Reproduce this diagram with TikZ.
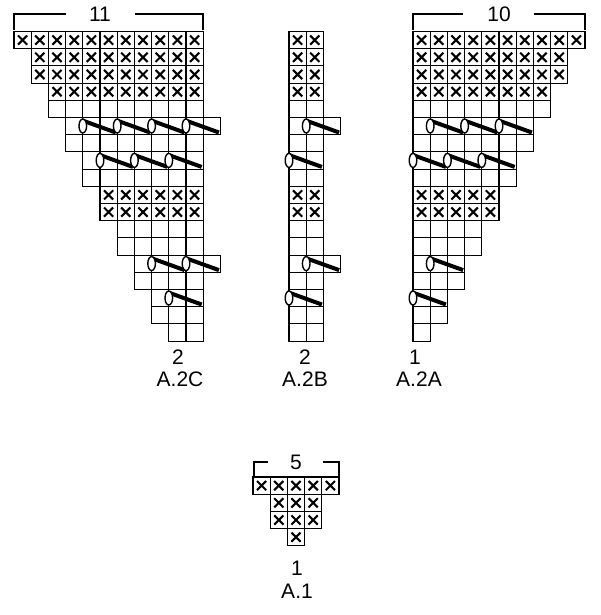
\documentclass[tikz,border=0pt]{standalone}
\usepackage{fontspec}
\setmainfont{Liberation Sans}
\newcommand{\cs}{17.2}% cell size
\tikzset{
  cellbox/.style={draw=black, line width=1.1pt},
  crossline/.style={line width=2.1pt},
  bracket/.style={line width=2pt},
  lbl/.style={font=\fontsize{21}{21}\selectfont, inner sep=0pt},
}
% \chartrows{origin x}{list of row/from/to/type}
\newcommand{\chartrows}[2]{%
  \foreach \r/\a/\b/\t in {#2} {
    \foreach \i in {\a,...,\b} {
      \pgfmathsetmacro{\xx}{#1+\i*\cs}
      \pgfmathsetmacro{\yy}{31.5+\r*\cs}
      \draw[cellbox] (\xx,\yy) rectangle ++(\cs,\cs);
      \if\t x
        \draw[crossline] (\xx+4,\yy+4) -- ++(9.2,9.2)
                         (\xx+4,\yy+13.2) -- ++(9.2,-9.2);
      \fi
    }
  }}
% \chartpairs{origin x}{list of row/index}
\newcommand{\chartpairs}[2]{%
  \foreach \r/\i in {#2} {
    \pgfmathsetmacro{\xx}{#1+\i*\cs}
    \pgfmathsetmacro{\yy}{31.5+\r*\cs}
    \draw[line width=4pt] (\xx+1,\yy+3.5) -- (\xx+2*\cs-1.5,\yy+\cs-2.2);
    \draw[fill=white, line width=1.4pt] (\xx,\yy+8.5) ellipse (3.8 and 7);
  }}
\begin{document}
\begin{tikzpicture}[x=1pt, y=-1pt]
\useasboundingbox (0,0) rectangle (600,615);

% A.2C
\chartrows{14}{0/0/10/x, 1/1/10/x, 2/1/10/x, 3/2/10/x, 4/2/10/o, 5/3/11/o,
  6/3/10/o, 7/4/10/o, 8/4/10/o, 9/5/10/x, 10/5/10/x, 11/6/10/o, 12/6/10/o,
  13/7/11/o, 14/7/10/o, 15/8/10/o, 16/8/10/o, 17/9/10/o}
\chartpairs{14}{5/4, 5/6, 5/8, 5/10, 7/5, 7/7, 7/9, 13/8, 13/10, 15/9}

% A.2B
\chartrows{289}{0/0/1/x, 1/0/1/x, 2/0/1/x, 3/0/1/x, 4/0/1/o, 5/0/2/o,
  6/0/1/o, 7/0/1/o, 8/0/1/o, 9/0/1/x, 10/0/1/x, 11/0/1/o, 12/0/1/o,
  13/0/2/o, 14/0/1/o, 15/0/1/o, 16/0/1/o, 17/0/1/o}
\chartpairs{289}{5/1, 7/0, 13/1, 15/0}

% A.2A
\chartrows{413}{0/0/9/x, 1/0/8/x, 2/0/8/x, 3/0/7/x, 4/0/7/o, 5/0/6/o,
  6/0/6/o, 7/0/5/o, 8/0/5/o, 9/0/4/x, 10/0/4/x, 11/0/3/o, 12/0/3/o,
  13/0/2/o, 14/0/2/o, 15/0/1/o, 16/0/1/o, 17/0/0/o}
\chartpairs{413}{5/1, 5/3, 5/5, 7/0, 7/2, 7/4, 13/1, 15/0}

% A.1
\begin{scope}[yshift=-445.5pt]
\chartrows{253}{0/0/4/x, 1/1/3/x, 2/1/3/x, 3/2/2/x}
\end{scope}

% brackets
\draw[bracket] (14,30) -- (14,14) -- (66,14) (135,14) -- (203,14) -- (203,30);
\node[lbl] (n11) at (100,14) {11};
\draw[bracket] (413,30) -- (413,14) -- (463,14) (534,14) -- (585,14) -- (585,30);
\node[lbl] (n10) at (499,14) {10};
\draw[bracket] (254,476) -- (254,462) -- (268,462) (323,462) -- (339,462) -- (339,476);
\node[lbl] (n5) at (296,462) {5};

% labels
\node[lbl] (cC) at (178,357) {2};
\node[lbl] (tC) at (180,379) {A.2C};
\node[lbl] (cB) at (305,357) {2};
\node[lbl] (tB) at (305,379) {A.2B};
\node[lbl] (cA) at (415,357) {1};
\node[lbl] (tA) at (419,379) {A.2A};
\node[lbl] (c1) at (297,568) {1};
\node[lbl] (t1) at (297,591) {A.1};
\end{tikzpicture}
\end{document}
